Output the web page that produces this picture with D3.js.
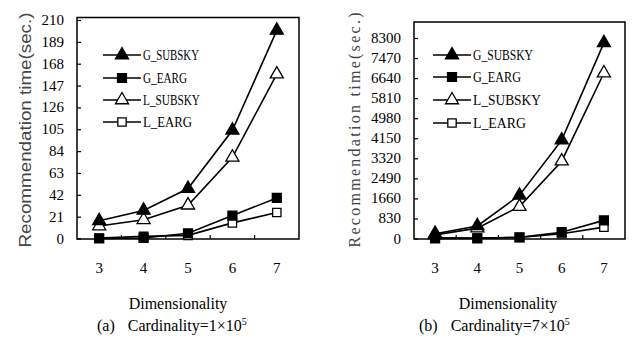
<!DOCTYPE html>
<html>
<head>
<meta charset="utf-8">
<script src="https://cdn.jsdelivr.net/npm/d3@7"></script>
<style>
    body { margin: 0; background: #fff; }
    svg { display: block; }
    text { font-family: "Liberation Serif", "Times New Roman", Times, "DejaVu Serif", serif; fill: #000; }
</style>
</head>
<body>
<div id="chart"></div>
<script>

// Data

var dims = [ 3, 4, 5, 6, 7 ];
var seriesNames = [ "G_SUBSKY", "G_EARG", "L_SUBSKY", "L_EARG" ];

var gSubskyA = [ 17, 27, 48, 104, 200 ];
var gEargA   = [ 0, 0.5, 5, 22, 39 ];
var lSubskyA = [ 12, 18, 32, 78, 158 ];
var lEargA   = [ 0.5, 2, 3, 15, 25 ];

var gSubskyB = [ 200, 520, 1790, 4070, 8100 ];
var gEargB   = [ 0, 10, 50, 260, 750 ];
var lSubskyB = [ 150, 430, 1320, 3200, 6850 ];
var lEargB   = [ 30, 20, 40, 200, 470 ];

var yTicksA = [ 0, 21, 42, 63, 84, 105, 126, 147, 168, 189, 210 ];
var yTicksB = [ 0, 830, 1660, 2490, 3320, 4150, 4980, 5810, 6640, 7470, 8300 ];

var serif = "'Liberation Serif', 'Times New Roman', Times, 'DejaVu Serif', serif";

var svg = d3.select("#chart").append("svg")
    .attr("width", 633)
    .attr("height", 338);

// marker shapes per series

var markers = {
    "G_SUBSKY": { type: d3.symbolTriangle, size: 74, fill: "#000" },
    "G_EARG":   { type: d3.symbolSquare,   size: 80, fill: "#000" },
    "L_SUBSKY": { type: d3.symbolTriangle, size: 74, fill: "#fff" },
    "L_EARG":   { type: d3.symbolSquare,   size: 70, fill: "#fff" }
};

function drawMarker( g, name, x, y ) {
    var m = markers[ name ];
    g.append("path")
        .attr("d", d3.symbol().type( m.type ).size( m.size ))
        .attr("transform", "translate(" + x + "," + y + ")")
        .style("fill", m.fill)
        .style("stroke", "#000")
        .style("stroke-width", 1.3);
}

function panel( cfg ) {

    var g = svg.append("g");

    var x = d3.scaleBand()
        .domain( dims )
        .range([ cfg.left, cfg.right ]);

    var y = d3.scaleLinear()
        .domain([ 0, cfg.yTicks[ cfg.yTicks.length - 1 ] ])
        .range([ 238.5, cfg.yTop ]);

    // frame

    g.append("rect")
        .attr("x", cfg.left)
        .attr("y", cfg.boxTop)
        .attr("width", cfg.right - cfg.left)
        .attr("height", 239 - cfg.boxTop)
        .style("fill", "none")
        .style("stroke", "#000")
        .style("stroke-width", 1.5);

    // y axis, ticks pointing in

    var yAxis = g.append("g")
        .attr("transform", "translate(" + cfg.left + ",0)")
        .call( d3.axisRight( y ).tickValues( cfg.yTicks ).tickSize( 4 ).tickFormat("") );
    yAxis.select(".domain").remove();
    yAxis.selectAll("line").style("stroke", "#000").style("stroke-width", 1.2);

    g.selectAll(".ylab")
        .data( cfg.yTicks )
        .enter().append("text")
        .attr("x", cfg.left - 13)
        .attr("y", function ( d ) { return y( d ) + 5; })
        .attr("text-anchor", "end")
        .style("font-family", serif)
        .style("font-size", "15px")
        .text(function ( d ) { return d; });

    // x axis: inner ticks on band borders, labels below

    g.selectAll(".xtick")
        .data( dims.slice( 1 ) )
        .enter().append("line")
        .attr("x1", function ( d ) { return x( d ); })
        .attr("x2", function ( d ) { return x( d ); })
        .attr("y1", 239)
        .attr("y2", 235)
        .style("stroke", "#000")
        .style("stroke-width", 1.2);

    g.selectAll(".xlab")
        .data( dims )
        .enter().append("text")
        .attr("x", function ( d ) { return x( d ) + x.bandwidth() / 2; })
        .attr("y", 273)
        .attr("text-anchor", "middle")
        .style("font-family", serif)
        .style("font-size", "15px")
        .text(function ( d ) { return d; });

    // lines + markers

    var line = d3.line()
        .x(function ( d, i ) { return x( dims[ i ] ) + x.bandwidth() / 2; })
        .y(function ( d ) { return y( d ); });

    var order = [ "L_EARG", "G_EARG", "L_SUBSKY", "G_SUBSKY" ];
    order.forEach(function ( name ) {
        var vals = cfg.series[ name ];
        g.append("path")
            .datum( vals )
            .attr("d", line)
            .style("fill", "none")
            .style("stroke", "#000")
            .style("stroke-width", 1.6);
        vals.forEach(function ( v, i ) {
            drawMarker( g, name, x( dims[ i ] ) + x.bandwidth() / 2, y( v ) );
        });
    });

    // legend

    seriesNames.forEach(function ( name, i ) {
        var ly = cfg.legY[ i ];
        g.append("line")
            .attr("x1", cfg.legX)
            .attr("x2", cfg.legX + 38)
            .attr("y1", ly)
            .attr("y2", ly)
            .style("stroke", "#000")
            .style("stroke-width", 1.6);
        drawMarker( g, name, cfg.legX + 19, ly );
        g.append("text")
            .attr("x", cfg.legX + 40)
            .attr("y", ly + 5)
            .attr("textLength", cfg.legW[ i ])
            .attr("lengthAdjust", "spacingAndGlyphs")
            .style("font-family", serif)
            .style("font-size", "14px")
            .text( name );
    });

    // axis titles

    g.append("text")
        .attr("transform", "translate(" + cfg.titleX + ",130) rotate(-90)")
        .attr("text-anchor", "middle")
        .attr("textLength", 235)
        .attr("lengthAdjust", cfg.titleAdjust)
        .style("font-family", cfg.titleFont)
        .style("font-size", cfg.titleSize)
        .style("fill", "#444")
        .text("Recommendation time(sec.)");

    g.append("text")
        .attr("x", cfg.dimX)
        .attr("y", 309)
        .attr("text-anchor", "middle")
        .style("font-family", serif)
        .style("font-size", "16px")
        .text("Dimensionality");

    var cap = g.append("text")
        .attr("x", cfg.capX)
        .attr("y", 331)
        .style("font-family", serif)
        .style("font-size", "16px");
    cap.append("tspan").text( cfg.capTag );
    cap.append("tspan").attr("dx", 13).text( cfg.capText );
    cap.append("tspan").attr("dy", -6).style("font-size", "10px").text("5");
}

panel({
    left: 77, right: 299, boxTop: 17.5, yTop: 20,
    yTicks: yTicksA,
    series: { "G_SUBSKY": gSubskyA, "G_EARG": gEargA, "L_SUBSKY": lSubskyA, "L_EARG": lEargA },
    legX: 103, legY: [ 55, 78, 100, 122 ], legW: [ 56, 44, 57, 49 ],
    titleX: 31, titleFont: "'Liberation Sans', Arial, sans-serif", titleSize: "16px", titleAdjust: "spacingAndGlyphs",
    dimX: 178, capX: 97, capTag: "(a)", capText: "Cardinality=1×10"
});

panel({
    left: 414, right: 625, boxTop: 22, yTop: 38,
    yTicks: yTicksB,
    series: { "G_SUBSKY": gSubskyB, "G_EARG": gEargB, "L_SUBSKY": lSubskyB, "L_EARG": lEargB },
    legX: 433, legY: [ 55, 77, 100, 123 ], legW: [ 60, 48, 68, 53 ],
    titleX: 360, titleFont: serif, titleSize: "16px", titleAdjust: "spacing",
    dimX: 508, capX: 419, capTag: "(b)", capText: "Cardinality=7×10"
});

</script>
</body>
</html>
